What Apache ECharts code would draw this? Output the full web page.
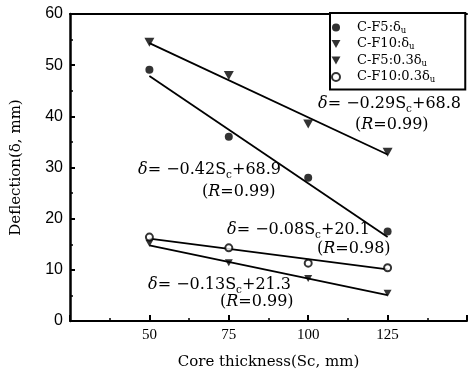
<!DOCTYPE html>
<html>
<head>
<meta charset="utf-8">
<script src="https://cdn.jsdelivr.net/npm/echarts@6/dist/echarts.min.js"></script>
<style>
  html, body { margin: 0; padding: 0; background: #fff; }
  #chart { width: 470px; height: 375px; }
</style>
</head>
<body>
<div id="chart"></div>
<script>
// Core thickness (mm) at which each specimen group was tested
const coreThickness = [50, 75, 100, 125];
const xTickLabels = [50, 75, 100, 125];
const yTickLabels = [0, 10, 20, 30, 40, 50, 60];

const seriesNames = ['C-F5:δu', 'C-F10:δu', 'C-F5:0.3δu', 'C-F10:0.3δu'];

// Measured deflections (mm)
const cf5Ultimate = [49.1, 36.0, 28.0, 17.5];
const cf10Ultimate = [54.5, 48.0, 38.5, 33.0];
const cf5Partial = [15.2, 11.4, 8.3, 5.4];
const cf10Partial = [16.4, 14.3, 11.3, 10.4];

// Linear fits  δ = slope·Sc + intercept, same order as seriesNames
const fitSlopes = [-0.42, -0.29, -0.13, -0.08];
const fitIntercepts = [68.9, 68.8, 21.3, 20.1];
const fitR = [0.99, 0.99, 0.99, 0.98];

const measured = [cf5Ultimate, cf10Ultimate, cf5Partial, cf10Partial];

const SERIF = '"DejaVu Serif", "Liberation Serif", serif';
const downTriangle = 'path://M0,0L10,0L5,9Z';

const markerStyles = [
  { symbol: 'circle', symbolSize: 8, itemStyle: { color: '#000' } },
  { symbol: downTriangle, symbolSize: [10, 9], itemStyle: { color: '#000' } },
  { symbol: downTriangle, symbolSize: [8, 7], itemStyle: { color: '#000' } },
  { symbol: 'circle', symbolSize: 7, itemStyle: { color: '#fff', borderColor: '#000', borderWidth: 2 } }
];

const series = [];
seriesNames.forEach((name, i) => {
  series.push(Object.assign({
    name: name,
    type: 'scatter',
    z: 5,
    data: coreThickness.map((x, j) => [x, measured[i][j]])
  }, markerStyles[i]));
});
// Fitted straight lines over the tested range
seriesNames.forEach((name, i) => {
  const x0 = coreThickness[0];
  const x1 = coreThickness[coreThickness.length - 1];
  series.push({
    type: 'line',
    silent: true,
    symbol: 'none',
    z: 3,
    lineStyle: { color: '#000', width: 1.8 },
    data: [[x0, fitSlopes[i] * x0 + fitIntercepts[i]], [x1, fitSlopes[i] * x1 + fitIntercepts[i]]]
  });
});

// Equation labels
const eqRich = {
  d: { fontFamily: SERIF, fontSize: 16, fontStyle: 'italic', lineHeight: 19, color: '#000' },
  t: { fontFamily: SERIF, fontSize: 16, lineHeight: 19, color: '#000' },
  s: { fontFamily: SERIF, fontSize: 10.5, lineHeight: 10, padding: [10, 0, 0, 0], color: '#000' },
  r: { fontFamily: SERIF, fontSize: 16, fontStyle: 'italic', lineHeight: 19, color: '#000' }
};
const eqPositions = [[138, 170], [318, 104], [148, 285], [227, 230]];
const rPositions = [[202, 192], [355, 125], [220, 302], [317, 249]];

const graphics = [];
fitSlopes.forEach((m, i) => {
  const eq = '{d|δ}{t|= −' + Math.abs(m).toFixed(2) + 'S}{s|c}{t|+' + fitIntercepts[i].toFixed(1) + '}';
  graphics.push({
    type: 'text',
    x: eqPositions[i][0], y: eqPositions[i][1],
    style: { text: eq, rich: eqRich, verticalAlign: 'middle' }
  });
  graphics.push({
    type: 'text',
    x: rPositions[i][0], y: rPositions[i][1],
    style: { text: '{t|(}{r|R}{t|=' + fitR[i].toFixed(2) + ')}', rich: eqRich, verticalAlign: 'middle' }
  });
});

const chart = echarts.init(document.getElementById('chart'), null, { renderer: 'canvas' });
chart.setOption({
  animation: false,
  backgroundColor: '#fff',
  grid: { left: 70, right: 0, top: 14, bottom: 53 },
  legend: {
    orient: 'vertical',
    left: 330,
    top: 13,
    padding: [7, 30, 5, 1],
    itemWidth: 12,
    itemHeight: 8,
    itemGap: 1.5,
    borderColor: '#000',
    borderWidth: 2,
    backgroundColor: '#fff',
    data: seriesNames,
    formatter: name => '{a|' + name.slice(0, -1) + '}{b|u}',
    textStyle: {
      rich: {
        a: { fontFamily: SERIF, fontSize: 13, lineHeight: 12.5, color: '#000', padding: [0, 0, 0, 10] },
        b: { fontFamily: SERIF, fontSize: 8.5, lineHeight: 8, color: '#000', padding: [6, 0, 0, 0] }
      }
    }
  },
  xAxis: [{
    type: 'value',
    min: 25, max: 150, interval: 25,
    name: 'Core thickness(Sc, mm)',
    nameLocation: 'middle',
    nameGap: 34,
    nameTextStyle: { fontFamily: SERIF, fontSize: 15, color: '#000' },
    axisLine: { lineStyle: { color: '#000', width: 2 } },
    axisTick: { inside: true, length: 6, lineStyle: { color: '#000', width: 2 } },
    minorTick: { show: true, splitNumber: 2, length: 3, lineStyle: { color: '#000', width: 1.5 } },
    splitLine: { show: false },
    axisLabel: {
      margin: 7,
      fontFamily: '"Liberation Serif", serif', fontSize: 15, color: '#000',
      formatter: v => (xTickLabels.indexOf(v) >= 0 ? String(v) : '')
    }
  }, {
    type: 'value',
    position: 'top',
    min: 25, max: 150,
    axisLine: { lineStyle: { color: '#000', width: 2 } },
    axisTick: { show: false },
    axisLabel: { show: false },
    splitLine: { show: false }
  }],
  yAxis: {
    type: 'value',
    min: 0, max: 60, interval: 10,
    name: 'Deflection(δ, mm)',
    nameLocation: 'middle',
    nameRotate: 90,
    nameGap: 46,
    nameTextStyle: { fontFamily: SERIF, fontSize: 15, color: '#000' },
    axisLine: { lineStyle: { color: '#000', width: 2.5 } },
    axisTick: { inside: true, length: 5, lineStyle: { color: '#000', width: 2 } },
    minorTick: { show: true, splitNumber: 2, length: 3, lineStyle: { color: '#000', width: 1.5 } },
    splitLine: { show: false },
    axisLabel: {
      margin: 7,
      fontFamily: '"Liberation Sans", Arial, sans-serif', fontSize: 16, color: '#000',
      formatter: v => (yTickLabels.indexOf(v) >= 0 ? String(v) : '')
    }
  },
  series: series,
  graphic: graphics
});
</script>
</body>
</html>
